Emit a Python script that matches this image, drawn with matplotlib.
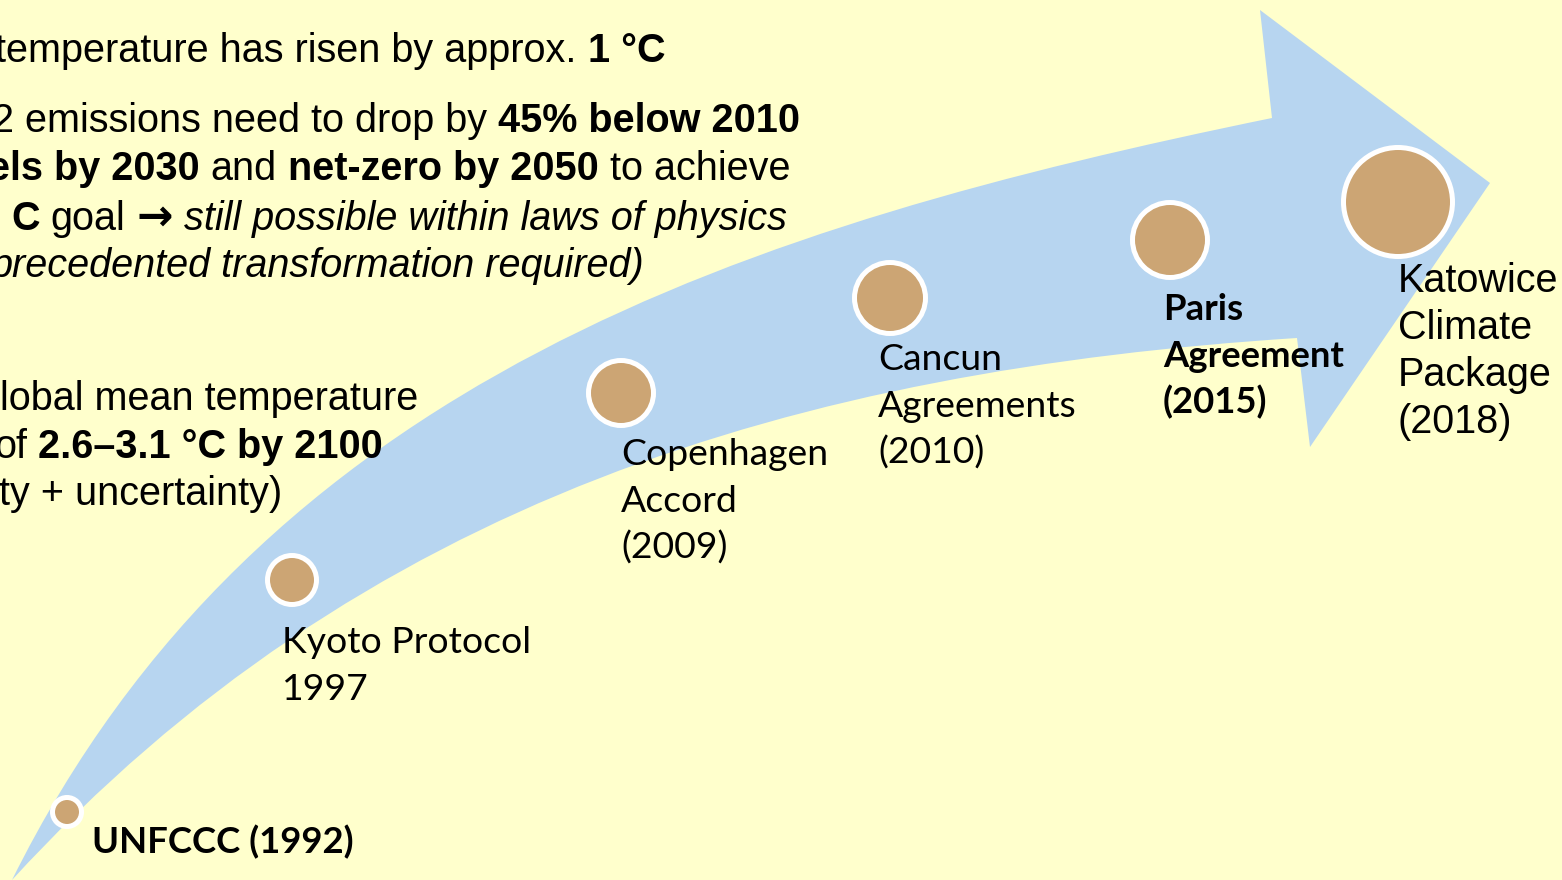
import matplotlib
matplotlib.use("Agg")
import matplotlib.pyplot as plt
from matplotlib.path import Path
from matplotlib.patches import PathPatch, Circle

W, H = 1562, 880

# milestones on the timeline arrow
labels = ["UNFCCC (1992)", "Kyoto Protocol\n1997", "Copenhagen\nAccord\n(2009)",
          "Cancun\nAgreements\n(2010)", "Paris\nAgreement\n(2015)",
          "Katowice\nClimate\nPackage\n(2018)"]
years = [1992, 1997, 2009, 2010, 2015, 2018]
highlight = [True, False, False, False, True, False]

ARIAL = ["Liberation Sans", "DejaVu Sans"]
CALIBRI = ["Lato", "DejaVu Sans"]
SYMB = ["DejaVu Sans"]

# left hand bullet text, one list of (text, weight, style, font) runs per line
bullet_lines = [
    [("temperature has risen by approx.", "normal", "normal", ARIAL),
     ("1 °C", "bold", "normal", ARIAL)],
    [("2 emissions need to drop by", "normal", "normal", ARIAL),
     ("45% below 2010", "bold", "normal", ARIAL)],
    [("els by 2030", "bold", "normal", ARIAL), ("and", "normal", "normal", ARIAL),
     ("net-zero by 2050", "bold", "normal", ARIAL), ("to achieve", "normal", "normal", ARIAL)],
    [("C", "bold", "normal", ARIAL), ("goal", "normal", "normal", ARIAL),
     ("\u2192", "bold", "normal", SYMB),
     ("still possible within laws of physics", "normal", "italic", ARIAL)],
    [("precedented transformation required)", "normal", "italic", ARIAL)],
    [("lobal mean temperature", "normal", "normal", ARIAL)],
    [("of", "normal", "normal", ARIAL), ("2.6\u20133.1 °C by 2100", "bold", "normal", ARIAL)],
    [("ty + uncertainty)", "normal", "normal", ARIAL)],
]

# layout (pixels, y downwards)
dot_xy = [(67, 812), (292, 580), (621, 393), (890, 298), (1170, 240), (1398, 202)]
dot_r = [17, 27, 35, 38, 40, 57]
label_xy = [(92, 853), (282, 653), (621, 465), (878, 370), (1163, 320), (1398, 292)]
bullet_y = [62, 132, 180, 230, 277, 410, 458, 505]
bullet_right = [665, 800, 790, 787, 645, 418, 383, 282]

BG = "#FFFFCC"
BLUE = "#B7D5F0"
TAN = "#CCA574"

fig = plt.figure(figsize=(W / 100, H / 100), dpi=100, facecolor=BG)
ax = fig.add_axes([0, 0, 1, 1])
ax.set_xlim(0, W)
ax.set_ylim(H, 0)
ax.axis("off")
ax.set_facecolor(BG)

# curved arrow: upper edge, head, lower edge back to the tail
verts = [(12, 880), (260, 380), (750, 225), (1272, 118),
         (1260, 10), (1490, 183), (1310, 447), (1297, 338),
         (800, 370), (360, 500), (12, 880), (12, 880)]
codes = [Path.MOVETO, Path.CURVE4, Path.CURVE4, Path.CURVE4,
         Path.LINETO, Path.LINETO, Path.LINETO, Path.LINETO,
         Path.CURVE4, Path.CURVE4, Path.CURVE4, Path.CLOSEPOLY]
ax.add_patch(PathPatch(Path(verts, codes), fc=BLUE, ec="none", zorder=1))

ring = 5
for (cx, cy), r in zip(dot_xy, dot_r):
    ax.add_patch(Circle((cx, cy), r - ring / 2, fc=TAN, ec="white",
                        lw=ring * 72 / 100, zorder=3))

for i, (lab, hl) in enumerate(zip(labels, highlight)):
    x, y = label_xy[i]
    fam = ARIAL if i == len(labels) - 1 else CALIBRI
    if fam is ARIAL:
        size, step = 28.5, 47
    else:
        size, step = (26.3 if hl else 26.9), 46.7
    for k, line in enumerate(lab.split("\n")):
        ax.text(x, y + k * step, line, family=fam, fontsize=size,
                fontweight="bold" if hl else "normal",
                ha="left", va="baseline", color="black", zorder=5)

fig.canvas.draw()
renderer = fig.canvas.get_renderer()
size = 28.5
space = 0.278 * size * 100 / 72
for runs, y, xr in zip(bullet_lines, bullet_y, bullet_right):
    x = xr
    for s, wt, st, fam in reversed(runs):
        fs = size * 1.1 if fam is SYMB else size
        t = ax.text(x, y, s, family=fam, fontsize=fs, fontweight=wt,
                    fontstyle=st, ha="right", va="baseline", color="black", zorder=5)
        bb = t.get_window_extent(renderer)
        x = bb.x0 - space

fig.savefig("out.png", dpi=100, facecolor=BG)
